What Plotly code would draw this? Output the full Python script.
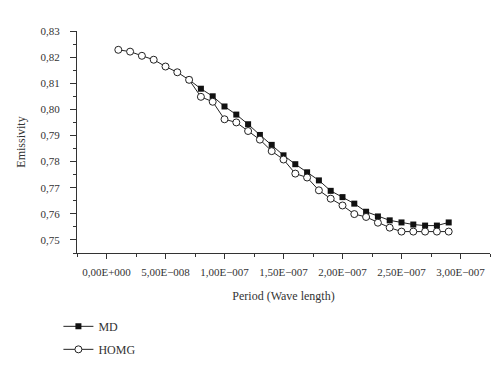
import plotly.graph_objects as go

# Period values (x) in metres
period_homg = [1e-8, 2e-8, 3e-8, 4e-8, 5e-8, 6e-8, 7e-8, 8e-8, 9e-8, 1.0e-7,
               1.1e-7, 1.2e-7, 1.3e-7, 1.4e-7, 1.5e-7, 1.6e-7, 1.7e-7, 1.8e-7, 1.9e-7, 2.0e-7,
               2.1e-7, 2.2e-7, 2.3e-7, 2.4e-7, 2.5e-7, 2.6e-7, 2.7e-7, 2.8e-7, 2.9e-7]
homg = [0.8228, 0.8221, 0.8205, 0.8190, 0.8164, 0.8142, 0.8113, 0.8048, 0.8029, 0.7962,
        0.7950, 0.7917, 0.7884, 0.7840, 0.7808, 0.7754, 0.7739, 0.7690, 0.7658, 0.7632,
        0.7599, 0.7588, 0.7566, 0.7547, 0.7532, 0.7532, 0.7532, 0.7532, 0.7532]

period_md = [7e-8, 8e-8, 9e-8, 1.0e-7, 1.1e-7, 1.2e-7, 1.3e-7, 1.4e-7, 1.5e-7, 1.6e-7,
             1.7e-7, 1.8e-7, 1.9e-7, 2.0e-7, 2.1e-7, 2.2e-7, 2.3e-7, 2.4e-7, 2.5e-7, 2.6e-7,
             2.7e-7, 2.8e-7, 2.9e-7]
md = [0.8113, 0.8079, 0.8050, 0.8011, 0.7980, 0.7943, 0.7902, 0.7864, 0.7824, 0.7790,
      0.7759, 0.7728, 0.7688, 0.7664, 0.7639, 0.7608, 0.7590, 0.7575, 0.7567, 0.7559,
      0.7555, 0.7555, 0.7567]

x_tickvals = [0, 5e-8, 1e-7, 1.5e-7, 2e-7, 2.5e-7, 3e-7]
x_ticktext = ["0,00E+000", "5,00E\u2212008", "1,00E\u2212007", "1,50E\u2212007",
              "2,00E\u2212007", "2,50E\u2212007", "3,00E\u2212007"]
y_tickvals = [0.75, 0.76, 0.77, 0.78, 0.79, 0.80, 0.81, 0.82, 0.83]
y_ticktext = ["0,75", "0,76", "0,77", "0,78", "0,79", "0,80", "0,81", "0,82", "0,83"]

FONT = "Liberation Serif"
TXT = "#333333"

fig = go.Figure()
fig.add_trace(go.Scatter(
    x=period_md, y=md, name="MD", mode="lines+markers", legendgroup="a",
    line=dict(color="#222222", width=1),
    marker=dict(symbol="square", size=6, color="#111111", line=dict(width=0)),
))
fig.add_trace(go.Scatter(
    x=period_homg, y=homg, name="HOMG", mode="lines+markers", legendgroup="b",
    line=dict(color="#222222", width=1),
    marker=dict(symbol="circle", size=7, color="white", line=dict(color="#222222", width=1)),
))

fig.update_layout(
    width=500, height=368,
    margin=dict(l=67, r=18, t=23, b=112),
    paper_bgcolor="white", plot_bgcolor="white",
    font=dict(family=FONT, size=11, color=TXT),
    showlegend=True,
    legend=dict(x=-0.045, xanchor="left", y=-0.265, yanchor="top",
                font=dict(family=FONT, size=12, color=TXT),
                tracegroupgap=4, itemwidth=30, bgcolor="rgba(0,0,0,0)"),
)
fig.update_xaxes(
    range=[-2.5e-8, 3.25e-7], showgrid=False, zeroline=False,
    showline=True, linecolor="#333333", linewidth=1.2,
    tickmode="array", tickvals=x_tickvals, ticktext=x_ticktext,
    ticks="outside", ticklen=5, tickcolor="#333333", ticklabelstandoff=4,
    minor=dict(dtick=2.5e-8, tick0=0, ticks="outside", ticklen=3, tickcolor="#333333"),
    title=dict(text="Period (Wave length)", font=dict(family=FONT, size=12, color=TXT), standoff=14),
    tickfont=dict(family=FONT, size=11, color=TXT),
)
fig.update_yaxes(
    range=[0.745, 0.83], showgrid=False, zeroline=False,
    showline=True, linecolor="#333333", linewidth=1.2,
    tickmode="array", tickvals=y_tickvals, ticktext=y_ticktext,
    ticks="outside", ticklen=6, tickcolor="#333333", ticklabelstandoff=8,
    minor=dict(dtick=0.005, tick0=0.745, ticks="outside", ticklen=3, tickcolor="#333333"),
    title=dict(text="Emissivity", font=dict(family=FONT, size=12, color=TXT), standoff=12),
    tickfont=dict(family=FONT, size=11, color=TXT),
)

fig.write_html("out.html")
